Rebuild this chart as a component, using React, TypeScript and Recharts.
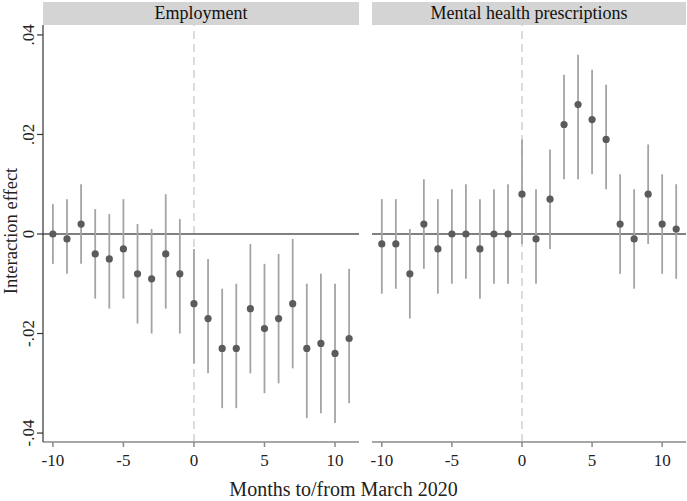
import React from "react";
import {
  ComposedChart,
  ErrorBar,
  ReferenceLine,
  Scatter,
  XAxis,
  YAxis,
} from "recharts";

const months = [-10, -9, -8, -7, -6, -5, -4, -3, -2, -1, 0, 1, 2, 3, 4, 5, 6, 7, 8, 9, 10, 11];

const employment = [0, -0.001, 0.002, -0.004, -0.005, -0.003, -0.008, -0.009, -0.004, -0.008, -0.014, -0.017, -0.023, -0.023, -0.015, -0.019, -0.017, -0.014, -0.023, -0.022, -0.024, -0.021];
const employmentLo = [-0.006, -0.008, -0.006, -0.013, -0.015, -0.013, -0.018, -0.02, -0.015, -0.02, -0.026, -0.028, -0.035, -0.035, -0.028, -0.032, -0.03, -0.027, -0.037, -0.036, -0.038, -0.034];
const employmentHi = [0.006, 0.007, 0.01, 0.005, 0.004, 0.007, 0.002, 0.001, 0.008, 0.003, -0.003, -0.005, -0.011, -0.01, -0.002, -0.006, -0.004, -0.001, -0.01, -0.008, -0.01, -0.007];

const mental = [-0.002, -0.002, -0.008, 0.002, -0.003, 0, 0, -0.003, 0, 0, 0.008, -0.001, 0.007, 0.022, 0.026, 0.023, 0.019, 0.002, -0.001, 0.008, 0.002, 0.001];
const mentalLo = [-0.012, -0.011, -0.017, -0.007, -0.012, -0.01, -0.009, -0.013, -0.01, -0.01, -0.002, -0.01, -0.003, 0.011, 0.011, 0.012, 0.009, -0.008, -0.011, -0.002, -0.008, -0.009];
const mentalHi = [0.007, 0.007, 0.001, 0.011, 0.007, 0.009, 0.01, 0.007, 0.009, 0.01, 0.019, 0.009, 0.017, 0.032, 0.036, 0.033, 0.03, 0.012, 0.009, 0.018, 0.012, 0.01];

const xTicks = [-10, -5, 0, 5, 10];
const yTicks = [-0.04, -0.02, 0, 0.02, 0.04];

const FONT = "'Liberation Serif', serif";
const X_DOMAIN: [number, number] = [-10.7, 11.7];
const Y_DOMAIN: [number, number] = [-0.0418, 0.042];

function buildRows(est: number[], lo: number[], hi: number[]) {
  return months.map((m, i) => ({
    month: m,
    est: est[i],
    ci: [est[i] - lo[i], hi[i] - est[i]],
  }));
}

const fmtY = (v: number) => (v === 0 ? "0" : v.toFixed(2).replace("0.", "."));

function YTick(props: any) {
  const { x, y, payload } = props;
  const bx = x - 1;
  return (
    <text
      x={bx}
      y={y}
      transform={`rotate(-90, ${bx}, ${y})`}
      textAnchor="middle"
      fontFamily={FONT}
      fontSize={17}
      fill="#222"
    >
      {fmtY(payload.value)}
    </text>
  );
}

function XTick(props: any) {
  const { x, y, payload } = props;
  return (
    <text x={x} y={y + 17} textAnchor="middle" fontFamily={FONT} fontSize={17} fill="#222">
      {payload.value}
    </text>
  );
}

function Dot(props: any) {
  const { cx, cy } = props;
  return <circle cx={cx} cy={cy} r={3.6} fill="#5b5b5b" />;
}

function Panel({
  title,
  rows,
  left,
  width,
  showY,
}: {
  title: string;
  rows: ReturnType<typeof buildRows>;
  left: number;
  width: number;
  showY: boolean;
}) {
  const marginLeft = showY ? 0 : 12;
  const plotLeft = left + (showY ? 43 : marginLeft);
  return (
    <>
      <div
        style={{
          position: "absolute",
          left: plotLeft,
          top: 2,
          width: width - (plotLeft - left) - 1,
          height: 23,
          background: "#d4d4d4",
          fontFamily: FONT,
          fontSize: 18,
          lineHeight: "23px",
          textAlign: "center",
          color: "#111",
        }}
      >
        {title}
      </div>
      <div style={{ position: "absolute", left, top: 0 }}>
        <ComposedChart
          width={width}
          height={501}
          data={rows}
          margin={{ top: 25, right: 1, bottom: 29, left: marginLeft }}
        >
          <XAxis
            dataKey="month"
            type="number"
            domain={X_DOMAIN}
            ticks={xTicks}
            allowDataOverflow
            height={30}
            stroke="#8a8a8a"
            strokeWidth={1.5}
            tickSize={5}
            tick={<XTick />}
          />
          <YAxis
            type="number"
            domain={Y_DOMAIN}
            ticks={yTicks}
            allowDataOverflow
            width={showY ? 43 : 0}
            hide={!showY}
            stroke="#333"
            strokeWidth={1.2}
            tickSize={6}
            tick={<YTick />}
          />
          <ReferenceLine x={0} stroke="#d0d0d0" strokeWidth={1.5} strokeDasharray="8 5" />
          <ReferenceLine y={0} stroke="#808080" strokeWidth={2} />
          <Scatter dataKey="est" isAnimationActive={false} shape={<Dot />}>
            <ErrorBar dataKey="ci" direction="y" width={0} stroke="#a4a4a4" strokeWidth={1.8} isAnimationActive={false} />
          </Scatter>
        </ComposedChart>
      </div>
    </>
  );
}

export default function App() {
  const empRows = buildRows(employment, employmentLo, employmentHi);
  const mentalRows = buildRows(mental, mentalLo, mentalHi);
  return (
    <div style={{ position: "absolute", left: 0, top: 0, width: 687, height: 501, background: "#fff" }}>
      <Panel title="Employment" rows={empRows} left={0} width={360} showY />
      <Panel title="Mental health prescriptions" rows={mentalRows} left={360} width={327} showY={false} />
      <svg width={24} height={501} style={{ position: "absolute", left: 0, top: 0 }}>
        <text
          x={17}
          y={231}
          transform="rotate(-90, 17, 231)"
          textAnchor="middle"
          fontFamily={FONT}
          fontSize={18.5}
          fill="#222"
        >
          Interaction effect
        </text>
      </svg>
      <div
        style={{
          position: "absolute",
          left: 0,
          width: 687,
          top: 478,
          textAlign: "center",
          fontFamily: FONT,
          fontSize: 20,
          color: "#222",
        }}
      >
        Months to/from March 2020
      </div>
    </div>
  );
}
